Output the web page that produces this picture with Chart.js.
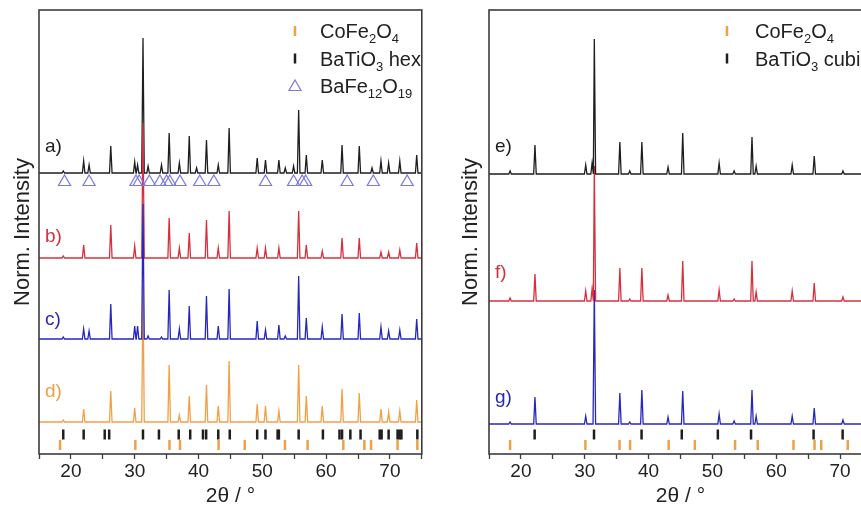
<!DOCTYPE html>
<html>
<head>
<meta charset="utf-8">
<script src="https://cdn.jsdelivr.net/npm/chart.js@4/dist/chart.umd.min.js"></script>
<style>
  html, body { margin: 0; padding: 0; background: #fff; width: 861px; height: 514px; overflow: hidden; }
  canvas { position: absolute; top: 0; }
  #xrd-hex { left: 0; }
  #xrd-cubic { left: 430px; }
</style>
</head>
<body>
<canvas id="xrd-hex" width="430" height="514"></canvas>
<canvas id="xrd-cubic" width="450" height="514"></canvas>
<script>
// XRD patterns, two panels: hexagonal BaTiO3 composites (a-d) and cubic (e-g).
// Each pattern is kept as peak positions (2θ) + peak heights;
// the trace is the baseline with a narrow triangle at every peak.

var X_MIN = 15, X_MAX = 75;
var X_LABELS = [20, 30, 40, 50, 60, 70];

// ── Left panel: peak positions and heights per pattern ───────────────────────
var hexPeaks = [18.8, 22.0, 22.85, 26.25, 30.0, 30.45, 31.3, 32.1, 34.2, 35.4, 37.0, 38.55, 39.7, 41.25, 43.1, 44.8,
  49.2, 50.5, 52.6, 53.6, 54.9, 55.7, 56.9, 59.4, 62.5, 65.2, 67.2, 68.6, 69.8, 71.55, 74.2];
var aHeights = [2, 12, 8, 27, 11, 8, 135, 7, 8, 40, 10, 37, 5, 33, 8, 45, 15, 13, 13, 5, 7, 63, 18, 13, 28, 27, 5, 12, 10, 12, 18];
var bHeights = [2, 13, 0, 33, 12, 0, 135, 0, 0, 40, 10, 25, 0, 38, 10, 47, 10, 10, 10, 0, 0, 47, 13, 7, 20, 20, 0, 6, 6, 8, 15];
var cHeights = [2, 10, 8, 35, 13, 13, 135, 3, 2, 49, 10, 33, 0, 43, 13, 50, 18, 9, 14, 3, 0, 63, 21, 12, 25, 26, 0, 12, 8, 9, 20];
var dHeights = [2, 13, 0, 31, 14, 0, 135, 0, 0, 57, 7, 26, 0, 37, 16, 61, 18, 16, 11, 0, 0, 57, 26, 16, 33, 29, 0, 13, 10, 11, 22];
var hexOffsets = [281, 196, 115, 32];

// reference reflections
var bto_hex = [18.8, 22.0, 25.3, 26.0, 31.3, 33.8, 36.9, 38.7, 40.7, 41.2, 43.1, 44.9, 49.2, 50.5, 52.4, 52.6, 55.7,
  59.5, 62.1, 62.5, 63.8, 65.4, 68.4, 68.7, 69.8, 71.2, 71.5, 71.8, 74.3];
var bto_cubic = [22.15, 31.45, 38.9, 45.2, 50.85, 56.05, 65.85, 70.4, 74.9];
var cofe2o4 = [18.3, 30.1, 35.45, 37.1, 43.15, 47.25, 53.55, 57.1, 62.7, 66.0, 67.05, 71.2, 74.3];
var bafe12o19 = [19.0, 22.85, 30.2, 30.7, 32.3, 33.95, 35.0, 35.5, 37.1, 40.2, 42.4, 50.5, 54.9, 56.25, 56.8, 63.3, 67.4, 72.7];

// ── Right panel ──────────────────────────────────────────────────────────────
var cubicPeaks = [18.3, 22.2, 30.15, 31.15, 31.5, 35.5, 37.05, 38.95, 43.05, 45.35, 51.05, 53.4, 56.2, 56.85, 62.5, 65.95, 70.45];
var eHeights = [3, 29, 9, 11, 135, 32, 3, 32, 7, 41, 11, 3, 37, 8, 9, 18, 3];
var fHeights = [3, 27, 10, 12, 135, 33, 2, 33, 6, 40, 11, 2, 40, 9, 10, 18, 4];
var gHeights = [2, 27, 8, 0, 134, 31, 2, 34, 7, 33, 10, 3, 34, 8, 8, 16, 4];
var cubicOffsets = [280, 153, 30];

var FONT = 'Arial, "Liberation Sans", sans-serif';
var C_BLACK = '#1e1e1e', C_RED = '#d6303f', C_BLUE = '#2727bd', C_ORANGE = '#f2a045', C_TRI = '#7a7ae0';
var PEAK_HW = 0.2;

function buildTrace(pos, heights, base) {
  var pts = [{ x: X_MIN, y: base }];
  pos.forEach(function(p, i) {
    if (!heights[i]) return;
    pts.push({ x: p - PEAK_HW, y: base }, { x: p, y: base + heights[i] }, { x: p + PEAK_HW, y: base });
  });
  pts.push({ x: X_MAX, y: base });
  return pts;
}

function traceSet(pos, heights, base, color, order) {
  return { data: buildTrace(pos, heights, base), showLine: true, borderColor: color, borderWidth: 1.3,
    pointRadius: 0, order: order };
}

// sticks / triangles sit at a fixed level under (or between) the traces
function markerSet(pos, level, color, style) {
  var tri = style === 'triangle';
  return {
    data: pos.map(function(p) { return { x: p, y: level }; }),
    showLine: false, order: 0,
    pointStyle: tri ? 'triangle' : 'line', pointRotation: tri ? 0 : 90,
    pointRadius: tri ? 7 : 5, pointBorderWidth: tri ? 1.2 : 2.5,
    pointBorderColor: color, pointBackgroundColor: 'rgba(0,0,0,0)'
  };
}

// ── Decorations: frame, a)-g) tags, phase legend ─────────────────────────────
function drawRich(ctx, parts, x, y) {
  parts.forEach(function(p) {
    ctx.font = (p[1] ? '13px ' : '20px ') + FONT;
    ctx.fillText(p[0], x, y + (p[1] ? 5 : 0));
    x += ctx.measureText(p[0]).width;
  });
}

var decorPlugin = {
  id: 'xrdDecor',
  afterDraw: function(chart, args, o) {
    var ctx = chart.ctx, a = chart.chartArea, ys = chart.scales.y;
    ctx.save();
    ctx.textBaseline = 'middle';
    ctx.textAlign = 'left';
    ctx.font = '19px ' + FONT;
    o.tags.forEach(function(t) {
      ctx.fillStyle = t.color;
      ctx.fillText(t.text, a.left + 6, ys.getPixelForValue(t.base) - t.lift);
    });
    ctx.textBaseline = 'alphabetic';
    o.legend.forEach(function(l, i) {
      var yc = a.top + 21 + i * 27.5;
      var sx = a.left + o.legendSym;
      if (l.sym === 'triangle') {
        ctx.strokeStyle = l.color; ctx.lineWidth = 1.2;
        ctx.beginPath();
        ctx.moveTo(sx, yc - 6); ctx.lineTo(sx + 6, yc + 4.5); ctx.lineTo(sx - 6, yc + 4.5);
        ctx.closePath(); ctx.stroke();
      } else {
        ctx.fillStyle = l.color;
        ctx.fillRect(sx - 1.25, yc - 5, 2.5, 10);
      }
      ctx.fillStyle = '#222';
      drawRich(ctx, l.parts, a.left + o.legendText, yc + 7);
    });
    ctx.strokeStyle = '#3c3c3c';
    ctx.lineWidth = 1.6;
    ctx.strokeRect(a.left, a.top, a.right - a.left, a.bottom - a.top);
    ctx.restore();
  }
};

function makePanel(elId, datasets, opts) {
  return new Chart(document.getElementById(elId), {
    type: 'scatter',
    data: { datasets: datasets },
    plugins: [decorPlugin],
    options: {
      responsive: false, animation: false, devicePixelRatio: 1, events: [],
      layout: { padding: { top: 10, right: 8, left: 0, bottom: 0 } },
      plugins: {
        legend: { display: false }, tooltip: { enabled: false },
        xrdDecor: { tags: opts.tags, legend: opts.legend, legendSym: opts.legendSym, legendText: opts.legendText }
      },
      scales: {
        x: {
          type: 'linear', min: X_MIN, max: X_MAX,
          afterFit: function(s) { s.height = 60; },
          border: { display: false },
          grid: { drawOnChartArea: false, drawTicks: true, tickLength: 5, tickColor: '#3c3c3c', tickWidth: 1.3 },
          ticks: {
            stepSize: 5, autoSkip: false, maxRotation: 0, padding: 1, color: '#222',
            font: { family: FONT, size: 19 },
            callback: function(v) { return X_LABELS.indexOf(v) >= 0 ? v : ''; }
          },
          title: { display: true, text: '2θ / °', color: '#222', font: { family: FONT, size: 21 }, padding: { top: 0, bottom: 5 } }
        },
        y: {
          min: 0, max: 444,
          afterFit: function(s) { s.width = opts.yWidth; },
          border: { display: false }, grid: { display: false }, ticks: { display: false },
          title: { display: true, text: 'Norm. Intensity', color: '#222', font: { family: FONT, size: 22 },
            padding: { top: opts.yTitlePad, bottom: 0 } }
        }
      }
    }
  });
}

var legendCoFe = { sym: 'stick', color: C_ORANGE, parts: [['CoFe', 0], ['2', 1], ['O', 0], ['4', 1]] };

makePanel('xrd-hex', [
  markerSet(bto_hex, 19.5, C_BLACK),
  markerSet(cofe2o4, 9, C_ORANGE),
  markerSet(bafe12o19, 272, C_TRI, 'triangle'),
  traceSet(hexPeaks, aHeights, hexOffsets[0], C_BLACK, 4),
  traceSet(hexPeaks, bHeights, hexOffsets[1], C_RED, 3),
  traceSet(hexPeaks, cHeights, hexOffsets[2], C_BLUE, 1),
  traceSet(hexPeaks, dHeights, hexOffsets[3], C_ORANGE, 2)
], {
  yWidth: 39, yTitlePad: 10, legendSym: 256, legendText: 281,
  tags: [
    { text: 'a)', color: C_BLACK, base: hexOffsets[0], lift: 26 },
    { text: 'b)', color: C_RED, base: hexOffsets[1], lift: 21 },
    { text: 'c)', color: C_BLUE, base: hexOffsets[2], lift: 19 },
    { text: 'd)', color: C_ORANGE, base: hexOffsets[3], lift: 30 }
  ],
  legend: [
    legendCoFe,
    { sym: 'stick', color: C_BLACK, parts: [['BaTiO', 0], ['3', 1], [' hex', 0]] },
    { sym: 'triangle', color: C_TRI, parts: [['BaFe', 0], ['12', 1], ['O', 0], ['19', 1]] }
  ]
});

makePanel('xrd-cubic', [
  markerSet(bto_cubic, 19.5, C_BLACK),
  markerSet(cofe2o4, 9, C_ORANGE),
  traceSet(cubicPeaks, eHeights, cubicOffsets[0], C_BLACK, 1),
  traceSet(cubicPeaks, fHeights, cubicOffsets[1], C_RED, 2),
  traceSet(cubicPeaks, gHeights, cubicOffsets[2], C_BLUE, 3)
], {
  yWidth: 59, yTitlePad: 28, legendSym: 238, legendText: 266,
  tags: [
    { text: 'e)', color: C_BLACK, base: cubicOffsets[0], lift: 27 },
    { text: 'f)', color: C_RED, base: cubicOffsets[1], lift: 28 },
    { text: 'g)', color: C_BLUE, base: cubicOffsets[2], lift: 26 }
  ],
  legend: [
    legendCoFe,
    { sym: 'stick', color: C_BLACK, parts: [['BaTiO', 0], ['3', 1], [' cubic', 0]] }
  ]
});
</script>
</body>
</html>
